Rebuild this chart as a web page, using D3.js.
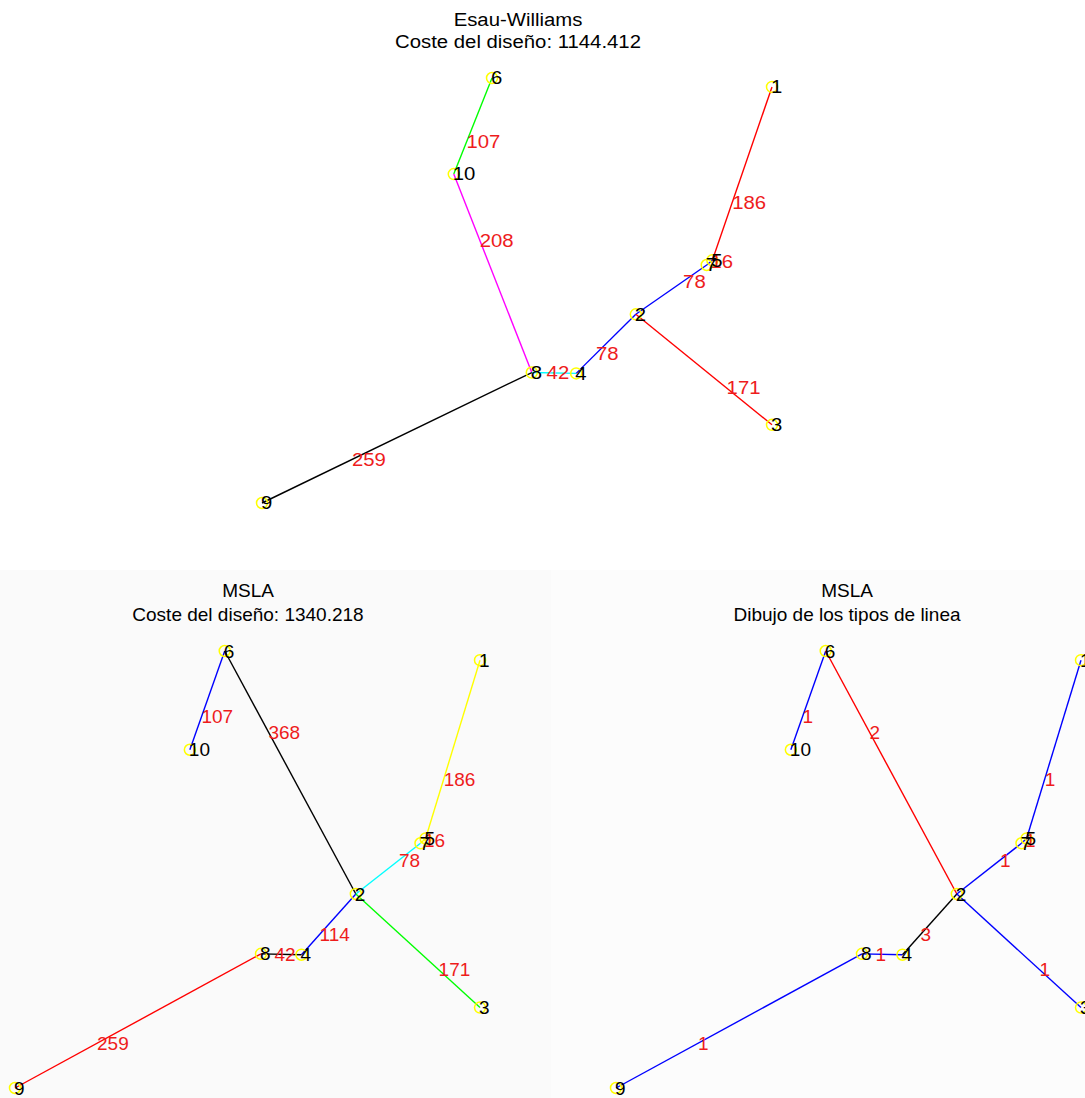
<!DOCTYPE html>
<html>
<head>
<meta charset="utf-8">
<script src="https://cdn.jsdelivr.net/npm/d3@7"></script>
<style>
  html, body { margin: 0; padding: 0; background: #ffffff; }
  svg { display: block; font-family: Arial, "Liberation Sans", Helvetica, sans-serif; }
</style>
</head>
<body>
<svg id="chart" width="1085" height="1098"></svg>
<script>
// Network nodes (plane coordinates)
const nodeIds = [1, 2, 3, 4, 5, 6, 7, 8, 9, 10];
const nodeX   = [100, 73.3, 100, 61.6, 88.3, 45.1, 87.2, 52.9, 0, 37.6];
const nodeY   = [97.9, 44.4, 18.4, 30.5, 57.1, 100, 56.0, 30.7, 0, 77.4];

// Esau-Williams design: links [from, to] and their costs
const ewLinks = [[10, 6], [10, 8], [8, 4], [4, 2], [7, 2], [5, 7], [5, 1], [3, 2], [9, 8]];
const ewCost  = [107, 208, 42, 78, 78, 16, 186, 171, 259];
const ewTotal = "1144.412";

// MSLA design: links, costs and line types
const mslaLinks = [[10, 6], [6, 2], [5, 1], [7, 2], [5, 7], [4, 2], [8, 4], [3, 2], [9, 8]];
const mslaCost  = [107, 368, 186, 78, 16, 114, 42, 171, 259];
const mslaType  = [1, 2, 1, 1, 1, 3, 1, 1, 1];
const mslaTotal = "1340.218";

// Panel titles
const titleEW    = ["Esau-Williams", "Coste del diseño: " + ewTotal];
const titleCost  = ["MSLA", "Coste del diseño: " + mslaTotal];
const titleTypes = ["MSLA", "Dibujo de los tipos de linea"];

// Line colours (MATLAB-style colour letters)
const ewColors   = ["#00ff00", "#ff00ff", "#00ffff", "#0000ff", "#0000ff", "#0000ff", "#ff0000", "#ff0000", "#000000"];
const mslaColors = ["#0000ff", "#000000", "#ffff00", "#00ffff", "#ffff00", "#0000ff", "#000000", "#00ff00", "#ff0000"];
const typeColors = {1: "#0000ff", 2: "#ff0000", 3: "#000000"};

const svg = d3.select("#chart");

// faint panel backgrounds of the lower row
svg.append("rect").attr("x", 0).attr("y", 570).attr("width", 551).attr("height", 528).attr("fill", "#fafafa");
svg.append("rect").attr("x", 551).attr("y", 570).attr("width", 534).attr("height", 528).attr("fill", "#fcfcfc");

function drawPanel(opts) {
  const x = d3.scaleLinear().domain([0, 100]).range(opts.xRange);
  const y = d3.scaleLinear().domain([0, 100]).range(opts.yRange);
  const nodes = nodeIds.map((id, i) => ({id, px: x(nodeX[i]), py: y(nodeY[i])}));
  const byId = new Map(nodes.map(n => [n.id, n]));
  const links = opts.links.map((l, i) => ({a: byId.get(l[0]), b: byId.get(l[1]), label: opts.labels[i], color: opts.colors[i]}));
  const g = svg.append("g");
  const fs = opts.fontSize, sx = opts.textScale;

  // title
  opts.title.forEach((t, i) => {
    g.append("text")
      .attr("transform", `translate(${opts.titleX},${opts.titleY + i * opts.titleGap}) scale(${sx},1)`)
      .attr("text-anchor", "middle")
      .attr("font-size", fs)
      .attr("fill", "#000")
      .text(t);
  });

  // links
  g.selectAll("line.link").data(links).join("line")
    .attr("class", "link")
    .attr("x1", d => d.a.px).attr("y1", d => d.a.py)
    .attr("x2", d => d.b.px).attr("y2", d => d.b.py)
    .attr("stroke", d => d.color)
    .attr("stroke-width", 1.4);

  // node markers
  g.selectAll("circle.node").data(nodes).join("circle")
    .attr("class", "node")
    .attr("cx", d => d.px).attr("cy", d => d.py)
    .attr("r", 5.5)
    .attr("fill", "none")
    .attr("stroke", "#ffff00")
    .attr("stroke-width", 1.5);

  // link labels, a third of the way along each link
  g.selectAll("text.lab").data(links).join("text")
    .attr("class", "lab")
    .attr("transform", d => `translate(${d.a.px + (d.b.px - d.a.px) / 3},${d.a.py + (d.b.py - d.a.py) / 3}) scale(${sx},1)`)
    .attr("dy", "0.35em")
    .attr("font-size", fs)
    .attr("fill", "#ee1c1c")
    .text(d => d.label);

  // node labels
  g.selectAll("text.nid").data(nodes).join("text")
    .attr("class", "nid")
    .attr("transform", d => `translate(${d.px - 1},${d.py}) scale(${sx},1)`)
    .attr("dy", "0.35em")
    .attr("font-size", fs)
    .attr("fill", "#000")
    .text(d => d.id);
}

drawPanel({
  xRange: [262, 772], yRange: [503, 78],
  links: ewLinks, labels: ewCost, colors: ewColors,
  title: titleEW, titleX: 518, titleY: 26, titleGap: 22,
  fontSize: 18, textScale: 1.13
});

drawPanel({
  xRange: [15, 480], yRange: [1088, 651],
  links: mslaLinks, labels: mslaCost, colors: mslaColors,
  title: titleCost, titleX: 248, titleY: 597, titleGap: 24,
  fontSize: 19, textScale: 1
});

drawPanel({
  xRange: [616, 1081], yRange: [1088, 651],
  links: mslaLinks, labels: mslaType, colors: mslaType.map(t => typeColors[t]),
  title: titleTypes, titleX: 847, titleY: 597, titleGap: 24,
  fontSize: 19, textScale: 1
});
</script>
</body>
</html>
